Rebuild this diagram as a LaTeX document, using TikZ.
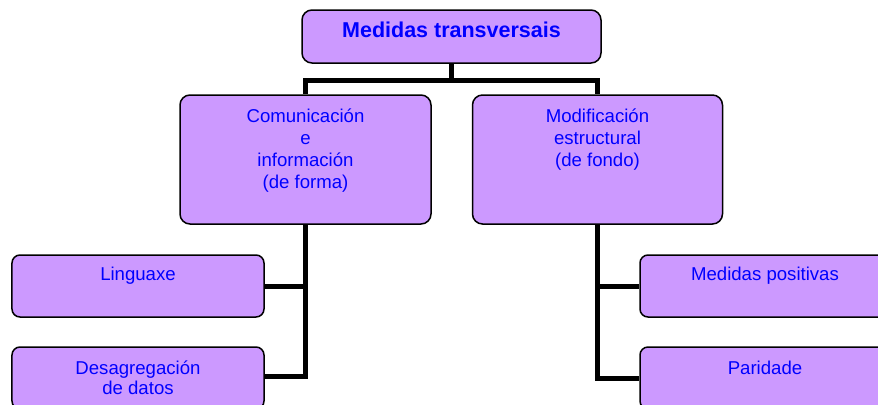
\documentclass[tikz,border=0pt]{standalone}
\usepackage{fontspec}
\setmainfont{Liberation Sans}
\definecolor{boxfill}{RGB}{204,153,255}
\definecolor{boxtext}{RGB}{0,0,255}

\begin{document}
\begin{tikzpicture}[x=1bp,y=-1bp,line join=miter,
  orgbox/.style={draw=black,line width=1.5bp,fill=boxfill,rounded corners=10bp,inner sep=0pt},
  orgtext/.style={text=boxtext,align=center,inner sep=0pt,font=\fontsize{18.6bp}{22bp}\selectfont},
  stem/.style={line width=5bp}]
  \useasboundingbox (0,0) rectangle (878,404);
  \clip (0,0) rectangle (878,404);
%%
  % Node: Medidas transversais
  \node[orgbox,minimum width=299bp,minimum height=53bp] (top) at (451.5,36.5) {};
  \node[orgtext,font=\fontsize{21.5bp}{25bp}\selectfont\bfseries] (topT) at ([yshift=6.5bp]top.center) {Medidas transversais};
  % Node: Comunicacion
  \node[orgbox,minimum width=251bp,minimum height=129bp] (com) at (305.5,159.5) {};
  \node[orgtext] (comT) at ([yshift=9bp]com.center) {Comunicación\\e\\información\\(de forma)};
  % Node: Modificacion
  \node[orgbox,minimum width=250bp,minimum height=129bp] (mod) at (597.5,159.5) {};
  \node[orgtext] (modT) at ([yshift=19.5bp]mod.center) {Modificación\\estructural\\(de fondo)};
  % Node: Linguaxe
  \node[orgbox,rounded corners=8bp,minimum width=252bp,minimum height=62bp] (ling) at (138,286) {};
  \node[orgtext] (lingT) at ([yshift=10.5bp]ling.center) {Linguaxe};
  % Node: Desagregacion
  \node[orgbox,rounded corners=8bp,minimum width=252bp,minimum height=62bp] (desag) at (138,378) {};
  \node[orgtext,font=\fontsize{18.6bp}{20bp}\selectfont] (desagT) at (desag.center) {Desagregación\\de datos};
  % Node: Medidas positivas
  \node[orgbox,rounded corners=8bp,minimum width=250bp,minimum height=62bp] (pos) at (765,286) {};
  \node[orgtext] (posT) at ([yshift=10.5bp]pos.center) {Medidas positivas};
  % Node: Paridade
  \node[orgbox,rounded corners=8bp,minimum width=250bp,minimum height=62bp] (par) at (765,378) {};
  \node[orgtext] (parT) at ([yshift=10.5bp]par.center) {Paridade};
  % Edge: top -> com, top -> mod
  \draw[stem] (top.south) -- ++(0,17) -| (com.north);
  \draw[stem] (top.south) -- ++(0,17) -| (mod.north);
  % Edge: com -> ling, com -> desag
  \draw[stem] (com.south) |- (ling.east);
  \draw[stem] (com.south) |- ([yshift=2bp]desag.east);
  % Edge: mod -> pos, mod -> par
  \draw[stem] (mod.south) |- (pos.west);
  \draw[stem] (mod.south) |- (par.west);
%
\end{tikzpicture}
\end{document}
